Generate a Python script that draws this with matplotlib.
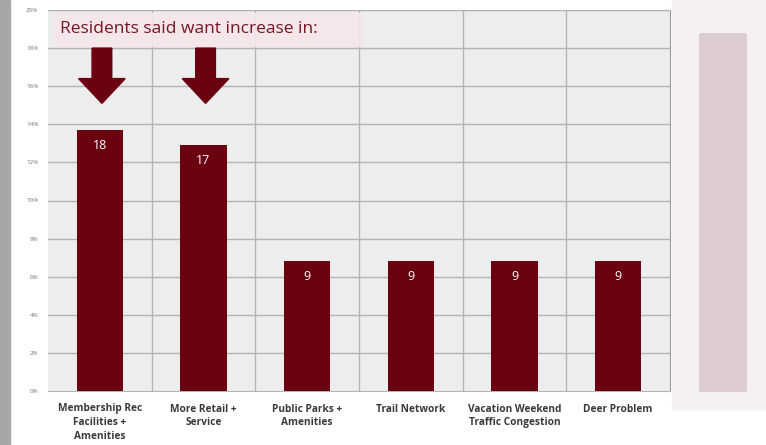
import matplotlib.pyplot as plt
import matplotlib.patches as mpatches
import numpy as np

categories = ['Membership Rec\nFacilities +\nAmenities', 'More Retail +\nService',
              'Public Parks +\nAmenities', 'Trail Network',
              'Vacation Weekend\nTraffic Congestion', 'Deer Problem']
percents = [13.7, 12.9, 6.8, 6.8, 6.8, 6.8]
counts = [18, 17, 9, 9, 9, 9]
arrow_cats = [0, 1]
yticks = [0, 2, 4, 6, 8, 10, 12, 14, 16, 18, 20]

BAR_COLOR = '#6b0010'
GRID = '#b4b4b4'
plt.rcParams['font.family'] = ['Open Sans', 'DejaVu Sans']

fig = plt.figure(figsize=(7.66, 4.45), dpi=100)
fig.patch.set_facecolor('white')

# grey strip on the left edge, pinkish panel on the right
fig.patches.append(mpatches.Rectangle((0, 0), 10/766, 1, transform=fig.transFigure,
                                      color='#a6a6a6', zorder=0))
fig.patches.append(mpatches.Rectangle((672/766, 0.08), 94/766, 0.92, transform=fig.transFigure,
                                      color='#f5f1f2', zorder=0))
fig.patches.append(mpatches.FancyBboxPatch((702/766, 55/445), 42/766, 355/445,
                                           boxstyle='round,pad=0.003', transform=fig.transFigure,
                                           color='#ddcdd1', zorder=0))

ax = fig.add_axes([48/766, 1 - 391/445, 622/766, 381/445])
ax.set_facecolor('#ededed')

x = np.arange(len(categories))
ax.bar(x, percents, width=0.45, color=BAR_COLOR, zorder=3)
for xi, p, c in zip(x, percents, counts):
    ax.text(xi, p - 0.8, str(c), ha='center', va='center', color='white',
            fontsize=9, zorder=4)

ax.set_xlim(-0.5, len(categories) - 0.5)
ax.set_ylim(0, 20)
ax.set_yticks(yticks)
ax.set_yticklabels([f'{t}%' for t in yticks], fontsize=4.5, color='#777777')
ax.set_xticks(x)
ax.set_xticklabels(categories, fontsize=7.3, fontweight='bold', color='#3a3a3a',
                   linespacing=1.35)
ax.tick_params(length=0, pad=7)
ax.tick_params(axis='x', pad=9)

for t in yticks[1:]:
    ax.axhline(t, color=GRID, lw=1, zorder=1)
for b in np.arange(0.5, len(categories) - 0.5, 1):
    ax.axvline(b, color=GRID, lw=1, zorder=1)
for s in ax.spines.values():
    s.set_color(GRID)
ax.spines['left'].set_visible(False)
ax.spines['right'].set_color('#999999')

# title box
ax.add_patch(mpatches.Rectangle((-0.43, 18.1), 2.95, 1.75, color='#f6e6ea', alpha=0.9, zorder=5))
ax.text(-0.38, 19.0, 'Residents said want increase in:', fontsize=12.5, color='#761626',
        va='center', ha='left', zorder=6)

# arrows
for i in arrow_cats:
    ax.add_patch(mpatches.FancyArrow(i + 0.02, 18.0, 0, -2.9, width=0.19, head_width=0.45,
                                     head_length=1.3, length_includes_head=True,
                                     color=BAR_COLOR, zorder=6))

fig.savefig('out.png', dpi=100)
